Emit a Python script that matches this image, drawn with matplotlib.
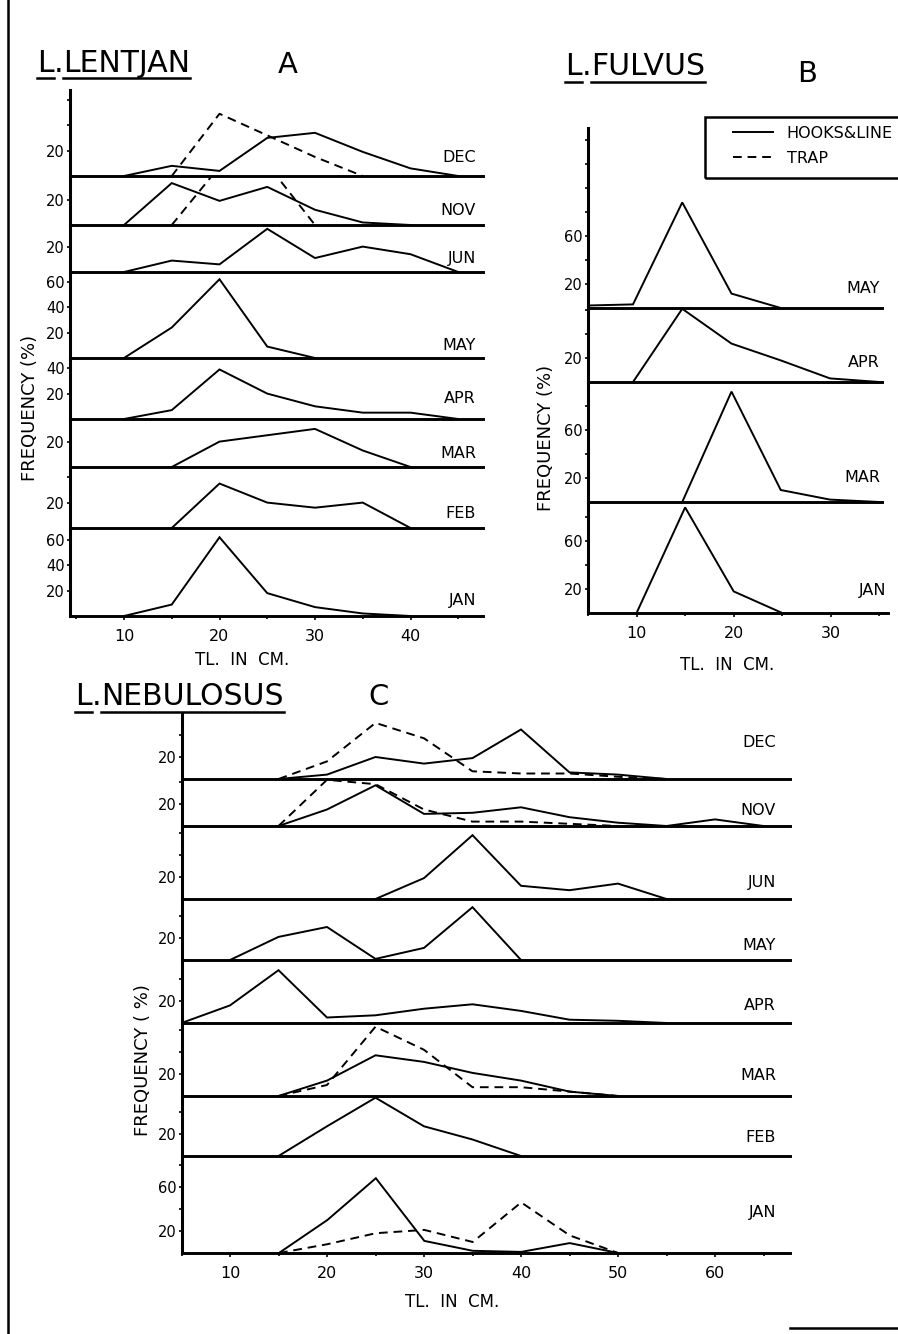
import numpy as np
import matplotlib
matplotlib.use("Agg")
import matplotlib.pyplot as plt
from matplotlib.ticker import FixedLocator, FuncFormatter
from matplotlib.lines import Line2D
from matplotlib.patches import Rectangle

nan = np.nan

# ---------------- DATA (frequency %) ----------------
# Panel A : L. LENTJAN
months_A = ["DEC", "NOV", "JUN", "MAY", "APR", "MAR", "FEB", "JAN"]
x_A = [10, 15, 20, 25, 30, 35, 40, 45]
hooks_A_dec = [0, 8, 4, 30, 34, 19, 6, 0]
hooks_A_nov = [0, 33, 19, 30, 12, 2, 0, nan]
hooks_A_jun = [0, 9, 6, 34, 11, 20, 14, 0]
hooks_A_may = [0, 24, 62, 9, 0, nan, nan, nan]
hooks_A_apr = [0, 7, 39, 20, 10, 5, 5, 0]
hooks_A_mar = [nan, 0, 20, 25, 30, 13, 0, nan]
hooks_A_feb = [nan, 0, 35, 20, 16, 20, 0, nan]
hooks_A_jan = [0, 9, 62, 18, 7, 2, 0, nan]
trap_A_dec = [nan, 0, 49, 32, 15, 0, nan, nan]
trap_A_nov = [nan, 0, 46, 48, 0, nan, nan, nan]
ticklabels_A = [[20], [20], [20], [20, 40, 60], [20, 40], [20], [20], [20, 40, 60]]

# Panel B : L. FULVUS
months_B = ["MAY", "APR", "MAR", "JAN"]
x_B = [5, 10, 15, 20, 25, 30, 35]
hooks_B_may = [2, 3, 88, 12, 0, nan, nan]
hooks_B_apr = [nan, 0, 61, 32, 18, 3, 0]
hooks_B_mar = [nan, nan, 0, 92, 10, 2, 0]
hooks_B_jan = [nan, 0, 88, 18, 0, nan, nan]
ticklabels_B = [[20, 60], [20], [20, 60], [20, 60]]

# Panel C : L. NEBULOSUS
months_C = ["DEC", "NOV", "JUN", "MAY", "APR", "MAR", "FEB", "JAN"]
x_C = [5, 10, 15, 20, 25, 30, 35, 40, 45, 50, 55, 60, 65]
hooks_C_dec = [nan, nan, 0, 4, 20, 14, 19, 45, 6, 4, 0, nan, nan]
hooks_C_nov = [nan, nan, 0, 15, 37, 11, 12, 17, 8, 3, 0, 6, 0]
hooks_C_jun = [nan, nan, nan, nan, 0, 19, 58, 12, 8, 14, 0, nan, nan]
hooks_C_may = [nan, 0, 21, 30, 1, 11, 48, 0, nan, nan, nan, nan, nan]
hooks_C_apr = [0, 16, 48, 5, 7, 13, 17, 11, 3, 2, 0, nan, nan]
hooks_C_mar = [nan, nan, 0, 14, 37, 31, 21, 14, 4, 0, nan, nan, nan]
hooks_C_feb = [nan, nan, 0, 27, 53, 27, 15, 0, nan, nan, nan, nan, nan]
hooks_C_jan = [nan, nan, 0, 30, 68, 11, 2, 1, 9, 0, nan, nan, nan]
trap_C_dec = [nan, nan, 0, 16, 51, 37, 7, 5, 5, 2, 0, nan, nan]
trap_C_nov = [nan, nan, 0, 42, 38, 15, 4, 4, 2, 0, nan, nan, nan]
trap_C_mar = [nan, nan, 0, 10, 63, 42, 8, 8, 4, 0, nan, nan, nan]
trap_C_jan = [nan, nan, 0, 8, 18, 21, 10, 46, 16, 0, nan, nan, nan]
ticklabels_C = [[20], [20], [20], [20], [20], [20], [20], [20, 60]]

hooks_A = [hooks_A_dec, hooks_A_nov, hooks_A_jun, hooks_A_may,
           hooks_A_apr, hooks_A_mar, hooks_A_feb, hooks_A_jan]
trap_A = [trap_A_dec, trap_A_nov, None, None, None, None, None, None]
hooks_B = [hooks_B_may, hooks_B_apr, hooks_B_mar, hooks_B_jan]
trap_B = [None, None, None, None]
hooks_C = [hooks_C_dec, hooks_C_nov, hooks_C_jun, hooks_C_may,
           hooks_C_apr, hooks_C_mar, hooks_C_feb, hooks_C_jan]
trap_C = [trap_C_dec, trap_C_nov, None, None, None, trap_C_mar, None, trap_C_jan]

# ---------------- LAYOUT (pixels) ----------------
W, H = 898, 1334
PT = 72.0 / 100.0
fig = plt.figure(figsize=(W / 100, H / 100), dpi=100)
fig.patch.set_facecolor("white")

panels = [
    dict(months=months_A, x=x_A, hooks=hooks_A, trap=trap_A, labs=ticklabels_A,
         x10=124, ppc=9.55, left=70, right=483, last_right=483,
         bounds=[90, 176, 225, 272, 358, 419, 467, 528, 616], ys=1.27,
         xticks=[10, 20, 30, 40], lab_dx=-7,
         lab_dy=[14, 10, 9, 8, 16, 9, 10, 11]),
    dict(months=months_B, x=x_B, hooks=hooks_B, trap=trap_B, labs=ticklabels_B,
         x10=633, ppc=9.85, left=588, right=882, last_right=888,
         bounds=[128, 308, 382, 502, 613], ys=1.2,
         xticks=[10, 20, 30], lab_dx=-2, lab_dy=[15, 15, 20, 18]),
    dict(months=months_C, x=x_C, hooks=hooks_C, trap=trap_C, labs=ticklabels_C,
         x10=230, ppc=9.7, left=182, right=790, last_right=790,
         bounds=[713, 779, 826, 899, 960, 1023, 1096, 1156, 1253], ys=1.1,
         xticks=[10, 20, 30, 40, 50, 60], lab_dx=-14,
         lab_dy=[32, 11, 12, 10, 13, 16, 14, 36]),
]

LW = 1.4
legend_handles = None
for P in panels:
    n = len(P["months"])
    for i in range(n):
        top, bot = P["bounds"][i], P["bounds"][i + 1]
        right = P["last_right"] if i == n - 1 else P["right"]
        left = P["left"]
        ax = fig.add_axes([left / W, 1 - bot / H, (right - left) / W, (bot - top) / H])
        ax.set_facecolor("none")
        cm = lambda px: 10 + (px - P["x10"]) / P["ppc"]
        ax.set_xlim(cm(left), cm(right))
        ymax = (bot - top) / P["ys"]
        ax.set_ylim(0, ymax)
        h, = ax.plot(P["x"], P["hooks"][i], color="black", lw=LW,
                     solid_joinstyle="miter")
        tr = P["trap"][i]
        if tr is not None:
            d, = ax.plot(P["x"], tr, color="black", lw=LW, dashes=(4.5, 3))
            if legend_handles is None:
                legend_handles = [h, d]
        for s in ("top", "right"):
            ax.spines[s].set_visible(False)
        ax.spines["left"].set_linewidth(2.2)
        ax.spines["bottom"].set_linewidth(2.1)
        ticks = list(np.arange(20, ymax, 20))
        ax.yaxis.set_major_locator(FixedLocator(ticks))
        labs = P["labs"][i]
        ax.yaxis.set_major_formatter(
            FuncFormatter(lambda v, pos, labs=labs: "%d" % v if int(round(v)) in labs else ""))
        ax.tick_params(axis="y", direction="out", length=3 * PT, width=1.2,
                       labelsize=10.5, pad=1.5)
        if i == n - 1:
            ax.set_xticks(P["xticks"])
            ax.set_xticks(np.arange(5, cm(right), 5), minor=True)
            ax.tick_params(axis="x", which="major", direction="out", length=4 * PT,
                           width=1.2, labelsize=11.5, pad=6.5)
            ax.tick_params(axis="x", which="minor", direction="out", length=3 * PT,
                           width=1.2)
        else:
            ax.tick_params(axis="x", which="both", bottom=False, labelbottom=False)
        ax.annotate(P["months"][i], xy=(1, 0), xycoords="axes fraction",
                    xytext=(P["lab_dx"] * PT, P["lab_dy"][i] * PT),
                    textcoords="offset points", ha="right", va="baseline",
                    fontsize=11.5)

# ---------------- TEXT ----------------
renderer = fig.canvas.get_renderer()


def underlined_title(x_px, base_px, parts, flags, ul_px, size=21.5):
    x = x_px
    for p, f in zip(parts, flags):
        t = fig.text(x / W, 1 - base_px / H, p, fontsize=size, ha="left", va="baseline")
        bb = t.get_window_extent(renderer=renderer)
        if f:
            fig.add_artist(Line2D([bb.x0 / W, bb.x1 / W], [1 - ul_px / H] * 2,
                                  transform=fig.transFigure, color="black", lw=1.8))
        x = bb.x1


underlined_title(37, 72, ["L", ".", "LENTJAN"], [True, False, True], 78)
underlined_title(565, 75, ["L", ".", "FULVUS"], [True, False, True], 82)
underlined_title(75, 705, ["L", ".", "NEBULOSUS"], [True, False, True], 712)
fig.text(278 / W, 1 - 73 / H, "A", fontsize=21, ha="left", va="baseline")
fig.text(797 / W, 1 - 82 / H, "B", fontsize=21, ha="left", va="baseline")
fig.text(368 / W, 1 - 705 / H, "C", fontsize=21, ha="left", va="baseline")

fig.text(242 / W, 1 - 665 / H, "TL.  IN  CM.", fontsize=12, ha="center", va="baseline")
fig.text(727 / W, 1 - 670 / H, "TL.  IN  CM.", fontsize=12, ha="center", va="baseline")
fig.text(452 / W, 1 - 1307 / H, "TL.  IN  CM.", fontsize=12, ha="center", va="baseline")

fig.text(30 / W, 1 - 408 / H, "FREQUENCY (%)", fontsize=13, rotation=90,
         ha="center", va="center")
fig.text(546 / W, 1 - 438 / H, "FREQUENCY (%)", fontsize=13, rotation=90,
         ha="center", va="center")
fig.text(143 / W, 1 - 1060 / H, "FREQUENCY ( %)", fontsize=13, rotation=90,
         ha="center", va="center")

# legend: entries placed where the reference shows them, box runs past the page edge
leg = fig.legend(legend_handles, ["HOOKS&LINE", "TRAP"], loc="upper left",
                 bbox_to_anchor=(733 / W, 1 - 126 / H), borderaxespad=0,
                 fontsize=11.5, frameon=False, handlelength=2.5,
                 handletextpad=0.85, borderpad=0, labelspacing=0.6)
fig.add_artist(Rectangle((705 / W, 1 - 178 / H), 220 / W, 61 / H,
                         transform=fig.transFigure, fill=False,
                         edgecolor="black", lw=1.8, clip_on=False))

# page border fragments
fig.add_artist(Line2D([8 / W, 8 / W], [0, 1], transform=fig.transFigure,
                      color="black", lw=1.8))
fig.add_artist(Line2D([790 / W, 1], [1 - 1328 / H] * 2, transform=fig.transFigure,
                      color="black", lw=1.8))

fig.savefig("out.png", dpi=100)
